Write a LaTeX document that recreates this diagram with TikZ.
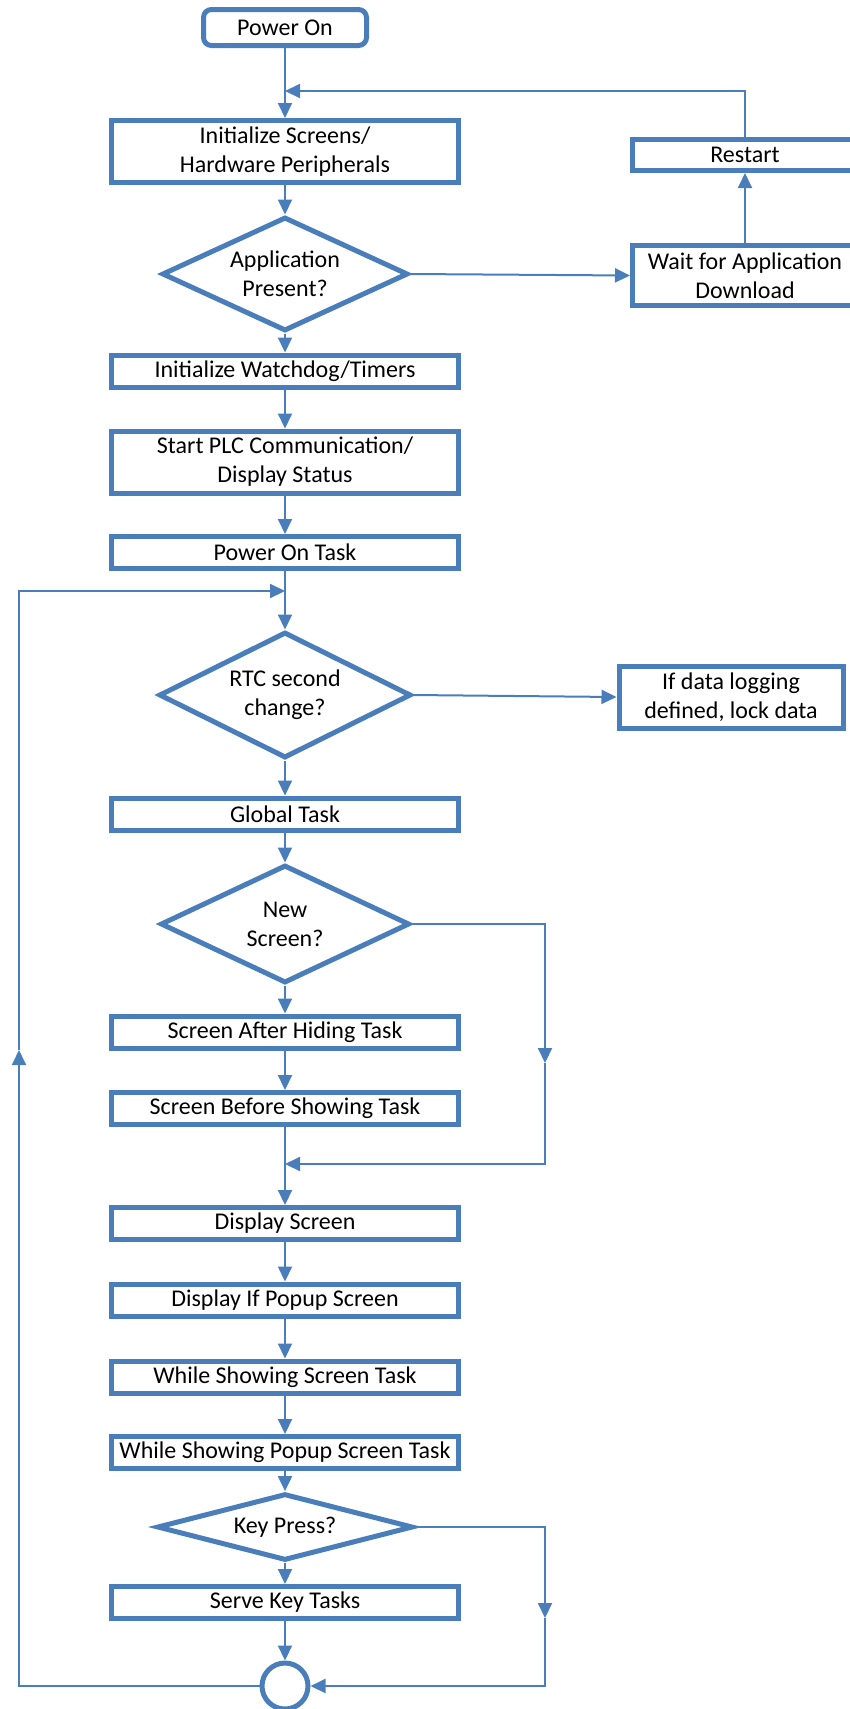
\documentclass[tikz,border=0pt]{standalone}
\usepackage{fontspec}
\setmainfont{Carlito}
\usepackage{xcolor}
\definecolor{flowblue}{RGB}{74,126,187}
\usetikzlibrary{positioning,arrows.meta,shapes.geometric}

\begin{document}
\begin{tikzpicture}[x=1pt, y=-1pt, font=\fontsize{24}{29}\selectfont,
  every node/.style={inner sep=0pt, align=center},
  box/.style={draw=flowblue, line width=5pt, fill=white, minimum width=347pt, minimum height=32pt},
  tallbox/.style={box, minimum height=62pt},
  dec/.style={draw=flowblue, line width=5pt, fill=white, diamond, shape aspect=2.2},
  conn/.style={draw=flowblue, line width=2pt},
  arr/.style={conn, -{Triangle[length=15pt,width=14pt]}}]
\useasboundingbox (0,0) rectangle (850,1709);
% --- start-up ---
\node[box, rounded corners=8pt, minimum width=163pt, minimum height=36pt] (pwr) at (285,27.5) {Power On};
\node[tallbox] (initscr) at (285,151.5) {Initialize Screens/\\Hardware Peripherals};
\node[dec, minimum width=246pt, minimum height=114pt] (appq) at (285,274) {Application\\Present?};
\node[box, minimum width=225pt, minimum height=31pt] (restart) at (745,155) {Restart};
\node[tallbox, minimum width=225pt, minimum height=60pt] (wait) at (745,275.5) {Wait for Application\\Download};
\node[box] (wdog) at (285,371) {Initialize Watchdog/Timers};
\node[tallbox] (plc) at (285,462) {Start PLC Communication/\\Display Status};
\node[box] (pwrtask) at (285,552.5) {Power On Task};
\coordinate (topmrg) at (285,91);
\draw[arr] (pwr) -- (initscr);
\draw[arr] (initscr) -- (appq);
\draw[arr] (appq.east) -- (wait.west);
\draw[arr] (wait) -- (restart);
\draw[arr] (restart.north) |- (topmrg);
\foreach \a/\b in {appq/wdog, wdog/plc, plc/pwrtask}
  \draw[arr] (\a) -- (\b);
% --- main loop ---
\node[dec, minimum width=252pt, minimum height=126pt] (rtcq) at (285,695) {RTC second\\change?};
\node[tallbox, minimum width=224pt] (logbox) at (731,697) {If data logging\\defined, lock data};
\node[box] (global) at (285,814) {Global Task};
\node[dec, minimum width=249pt, minimum height=118pt] (newq) at (285,924) {New\\Screen?};
\node[box] (after) at (285,1032) {Screen After Hiding Task};
\node[box] (before) at (285,1108.5) {Screen Before Showing Task};
\foreach \n/\y/\t in {disp/1223.5/Display Screen, popup/1300/Display If Popup Screen,
    whilescr/1377/While Showing Screen Task, whilepop/1452.5/While Showing Popup Screen Task}
  \node[box] (\n) at (285,\y) {\t};
\node[dec, minimum width=256pt, minimum height=62pt] (keyq) at (285,1527) {Key Press?};
\node[box] (serve) at (285,1602.5) {Serve Key Tasks};
\node[draw=flowblue, line width=5pt, circle, minimum size=46pt] (circ) at (285,1686) {};
\draw[arr] (pwrtask) -- (rtcq);
\draw[arr] (rtcq.east) -- (logbox.west);
\foreach \a/\b in {rtcq/global, global/newq, newq/after, after/before, before/disp,
    disp/popup, popup/whilescr, whilescr/whilepop, whilepop/keyq, keyq/serve, serve/circ}
  \draw[arr] (\a) -- (\b);
% bypass of new screen
\coordinate (newdn) at (545,1063);
\coordinate (newmrg) at (285,1164);
\draw[arr] (newq.east) -| (newdn);
\draw[arr] (newdn) |- (newmrg);
% bypass of key press
\coordinate (keydn) at (545,1618);
\draw[arr] (keyq.east) -| (keydn);
\draw[arr] (keydn) |- (circ.east);
% loop back
\coordinate (loopup) at (19,1050);
\coordinate (loopmrg) at (285,591);
\draw[arr] (circ.west) -| (loopup);
\draw[arr] (loopup) |- (loopmrg);
\end{tikzpicture}
\end{document}
